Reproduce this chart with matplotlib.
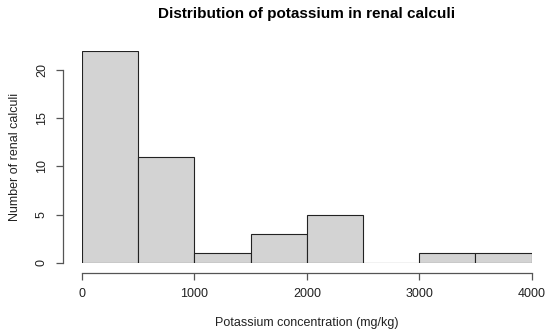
import matplotlib
matplotlib.use("Agg")
import matplotlib.pyplot as plt
import numpy as np

plt.rcParams['font.family'] = ['Liberation Sans', 'DejaVu Sans']

bin_edges = [0, 500, 1000, 1500, 2000, 2500, 3000, 3500, 4000]
counts = [22, 11, 1, 3, 5, 0, 1, 1]
x_ticks = [0, 1000, 2000, 3000, 4000]
y_ticks = [0, 5, 10, 15, 20]

fig = plt.figure(figsize=(5.5, 3.35), dpi=100)
ax = fig.add_axes([82 / 550, (335 - 262.7) / 335, (531.7 - 82) / 550, 212 / 335])

edges = np.array(bin_edges)
ax.bar(edges[:-1], counts, width=np.diff(edges), align='edge',
       color='#d3d3d3', edgecolor='#222222', linewidth=0.8)

ax.set_xlim(0, 4000)
ax.set_ylim(0, 22)
for s in ['top', 'right']:
    ax.spines[s].set_visible(False)
ax.spines['left'].set_position(('outward', 13.5))
ax.spines['bottom'].set_position(('outward', 7.2))
ax.spines['left'].set_bounds(0, 20)
ax.spines['bottom'].set_bounds(0, 4000)
for s in ['left', 'bottom']:
    ax.spines[s].set_color('#555555')
    ax.spines[s].set_linewidth(0.9)

ax.set_xticks(x_ticks)
ax.set_yticks(y_ticks)
ax.set_yticklabels([str(v) for v in y_ticks], rotation=90, va='center')
ax.tick_params(axis='both', colors='#555555', labelcolor='#222222',
               labelsize=9, length=5, width=0.9)
ax.tick_params(axis='x', pad=6)
ax.tick_params(axis='y', pad=6)

ax.set_xlabel('Potassium concentration (mg/kg)', fontsize=9, color='#222222', labelpad=12)
ax.set_ylabel('Number of renal calculi', fontsize=9, color='#222222', labelpad=11)
fig.text(307 / 550, 1 - 14 / 335, 'Distribution of potassium in renal calculi',
         ha='center', va='center', fontsize=11, fontweight='bold')

fig.savefig('out.png', dpi=100)
